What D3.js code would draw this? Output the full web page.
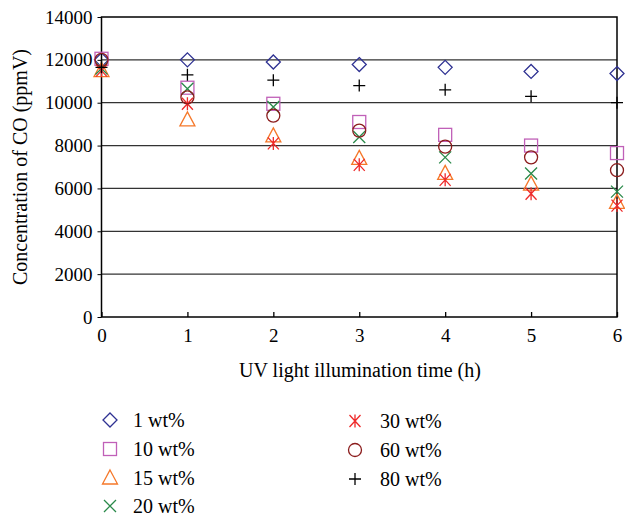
<!DOCTYPE html>
<html><head><meta charset="utf-8">
<script src="https://cdn.jsdelivr.net/npm/d3@7"></script>
<style>body{margin:0;background:#fff}svg{display:block}</style>
</head><body>
<svg id="c" width="625" height="517"></svg>
<script>
const hours = [0, 1, 2, 3, 4, 5, 6];
const yTicks = [0, 2000, 4000, 6000, 8000, 10000, 12000, 14000];
const seriesNames = ["1 wt%", "10 wt%", "15 wt%", "20 wt%", "30 wt%", "60 wt%", "80 wt%"];
const s1 = [12000, 12000, 11900, 11780, 11650, 11460, 11360];
const s10 = [12050, 10700, 9950, 9100, 8500, 8000, 7650];
const s15 = [11500, 9200, 8450, 7400, 6700, 6200, 5350];
const s20 = [11600, 10650, 9800, 8400, 7450, 6700, 5850];
const s30 = [11500, 9950, 8100, 7100, 6400, 5750, 5200];
const s60 = [12000, 10250, 9400, 8700, 7950, 7450, 6850];
const s80 = [11650, 11300, 11050, 10800, 10600, 10300, 10000];

const seriesValues = [s1, s10, s15, s20, s30, s60, s80];
const colors = ["#2e3192", "#c060b8", "#f5782a", "#2a8a4a", "#ee2a2a", "#8b1c1c", "#000000"];
const shapes = ["diamond", "square", "triangle", "x", "asterisk", "circle", "plus"];

const svg = d3.select("#c");
const L = 101.5, R = 617, T = 17, B = 317;
const x = d3.scaleLinear().domain([0, 6]).range([L, R]);
const y = d3.scaleLinear().domain([0, 14000]).range([B, T]);
const font = "'Liberation Serif', 'DejaVu Serif', serif";

// gridlines
svg.append("g").selectAll("line").data(yTicks.filter(d => d > 0 && d < 14000)).join("line")
  .attr("x1", L).attr("x2", R).attr("y1", d => y(d)).attr("y2", d => y(d))
  .attr("stroke", "#333").attr("stroke-width", 1.3);

// frame
svg.append("rect").attr("x", L).attr("y", T).attr("width", R - L).attr("height", B - T)
  .attr("fill", "none").attr("stroke", "#000").attr("stroke-width", 1.5);

// y axis
const yAxis = svg.append("g").attr("transform", `translate(${L},0)`)
  .call(d3.axisLeft(y).tickValues(yTicks).tickSize(4).tickPadding(5).tickFormat(d3.format("d")));
yAxis.select(".domain").remove();
yAxis.selectAll("text").attr("font-family", font).attr("font-size", 19).attr("fill", "#000");
yAxis.selectAll("line").attr("stroke", "#000");

// x axis
const xAxis = svg.append("g").attr("transform", `translate(0,${B})`)
  .call(d3.axisBottom(x).tickValues(hours).tickSize(-5).tickPadding(12).tickFormat(d3.format("d")));
xAxis.select(".domain").remove();
xAxis.selectAll("text").attr("font-family", font).attr("font-size", 19).attr("fill", "#000");
xAxis.selectAll("line").attr("stroke", "#000").attr("stroke-width", 1.3);

// titles
svg.append("text").attr("x", 360).attr("y", 377).attr("text-anchor", "middle")
  .attr("font-family", font).attr("font-size", 20).text("UV light illumination time (h)");
svg.append("text").attr("transform", `translate(27,${(T + B) / 2}) rotate(-90)`).attr("text-anchor", "middle")
  .attr("font-family", font).attr("font-size", 20).text("Concentration of CO (ppmV)");

function drawMarker(g, shape, color, cx, cy) {
  const s = 7;
  const base = { fill: "none", stroke: color, "stroke-width": 1.3 };
  let el;
  if (shape === "diamond") {
    el = g.append("path").attr("d", `M${cx},${cy - s}L${cx + s},${cy}L${cx},${cy + s}L${cx - s},${cy}Z`);
  } else if (shape === "square") {
    el = g.append("rect").attr("x", cx - 6.5).attr("y", cy - 6.5).attr("width", 13).attr("height", 13);
  } else if (shape === "triangle") {
    el = g.append("path").attr("d", `M${cx},${cy - 8}L${cx + 7.5},${cy + 6}L${cx - 7.5},${cy + 6}Z`);
  } else if (shape === "x") {
    el = g.append("path").attr("d", `M${cx - 6},${cy - 6}L${cx + 6},${cy + 6}M${cx + 6},${cy - 6}L${cx - 6},${cy + 6}`);
  } else if (shape === "asterisk") {
    el = g.append("path").attr("d", `M${cx - 5.5},${cy - 6}L${cx + 5.5},${cy + 6}M${cx + 5.5},${cy - 6}L${cx - 5.5},${cy + 6}M${cx},${cy - 6.5}L${cx},${cy + 6.5}`);
  } else if (shape === "circle") {
    el = g.append("circle").attr("cx", cx).attr("cy", cy).attr("r", 6.5);
  } else {
    el = g.append("path").attr("d", `M${cx - 6},${cy}L${cx + 6},${cy}M${cx},${cy - 6}L${cx},${cy + 6}`);
  }
  Object.entries(base).forEach(([k, v]) => el.attr(k, v));
}

// points
const pts = svg.append("g");
seriesValues.forEach((vals, i) => {
  vals.forEach((v, j) => drawMarker(pts, shapes[i], colors[i], x(hours[j]), y(v)));
});

// legend
const leg = svg.append("g");
const col1 = [0, 1, 2, 3], col2 = [4, 5, 6];
const rowY = [420, 449, 478, 506];
col1.forEach((si, r) => {
  drawMarker(leg, shapes[si], colors[si], 110, rowY[r]);
  leg.append("text").attr("x", 133).attr("y", rowY[r] + 7).attr("font-family", font).attr("font-size", 20).text(seriesNames[si]);
});
col2.forEach((si, r) => {
  drawMarker(leg, shapes[si], colors[si], 355, rowY[r] + 1);
  leg.append("text").attr("x", 380).attr("y", rowY[r] + 8).attr("font-family", font).attr("font-size", 20).text(seriesNames[si]);
});
</script>
</body></html>
